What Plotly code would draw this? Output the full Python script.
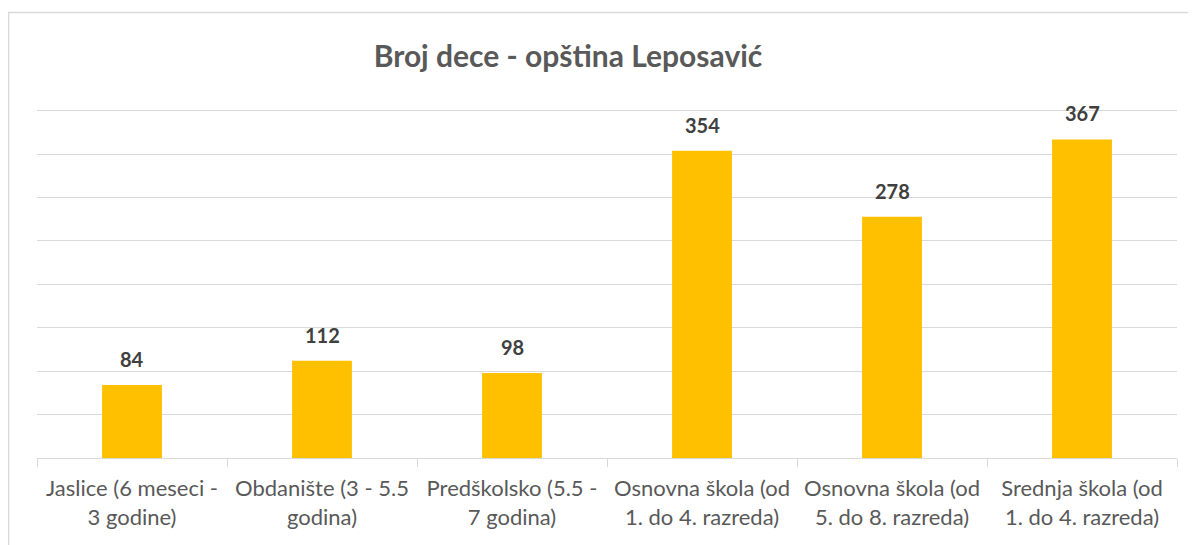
import plotly.graph_objects as go

categories = [
    "Jaslice (6 meseci -<br>3 godine)",
    "Obdanište (3 - 5.5<br>godina)",
    "Predškolsko (5.5 -<br>7 godina)",
    "Osnovna škola (od<br>1. do 4. razreda)",
    "Osnovna škola (od<br>5. do 8. razreda)",
    "Srednja škola (od<br>1. do 4. razreda)",
]
values = [84, 112, 98, 354, 278, 367]
title_text = "Broj dece - opština Leposavić"

FONT = "Lato"
# page body has an 8px margin, so the figure is sized / positioned to compensate
OFF = 8
W, H = 1196 - OFF, 545 - OFF
L, R, T, B = 37 - OFF, 19, 109 - OFF, 87
YMAX = 402
pw, ph = W - L - R, H - T - B

fig = go.Figure(
    go.Bar(
        x=categories,
        y=values,
        marker=dict(color="#FFC000", line=dict(width=0)),
        hoverinfo="x+y",
    )
)

for c, v in zip(categories, values):
    fig.add_annotation(
        x=c, y=v, xref="x", yref="y",
        text="<b>%d</b>" % v,
        showarrow=False,
        yanchor="middle",
        yshift=26,
        font=dict(family=FONT, size=20, color="#404040"),
    )

fig.update_layout(
    width=W,
    height=H,
    margin=dict(l=L, r=R, t=T, b=B),
    paper_bgcolor="white",
    plot_bgcolor="white",
    bargap=0.685,
    showlegend=False,
    title=dict(
        text="<b>%s</b>" % title_text,
        x=(568 - OFF) / W,
        xanchor="center",
        xref="container",
        y=1 - (56 - OFF) / H,
        yanchor="middle",
        yref="container",
        font=dict(family=FONT, size=30, color="#595959"),
    ),
    xaxis=dict(
        showline=True,
        linecolor="#d9d9d9",
        linewidth=1,
        ticks="outside",
        tickson="boundaries",
        ticklen=8,
        tickcolor="#d9d9d9",
        tickfont=dict(family=FONT, size=22, color="#595959"),
        ticklabelstandoff=11,
        showgrid=False,
    ),
    yaxis=dict(
        range=[0, YMAX],
        tickvals=[50, 100, 150, 200, 250, 300, 350, 400],
        showgrid=True,
        gridcolor="#d9d9d9",
        gridwidth=1,
        showticklabels=False,
        zeroline=False,
        showline=False,
        ticks="",
    ),
)

# chart-area border (Excel style)
fig.add_shape(
    type="rect",
    xref="paper", yref="paper",
    x0=(0.5 - L) / pw, x1=(1187.5 - L) / pw,
    y0=-1.0, y1=(H - B - 4.5) / ph,
    line=dict(color="#d9d9d9", width=1.5),
    fillcolor="rgba(0,0,0,0)",
    layer="below",
)

fig.write_html("out.html")
